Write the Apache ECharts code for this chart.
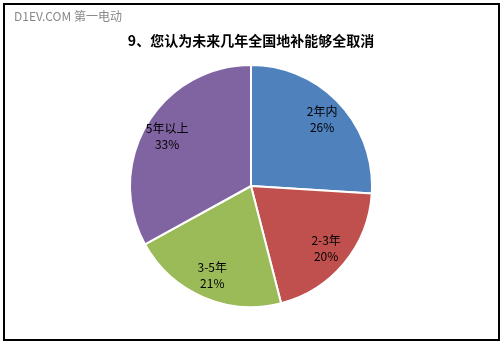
<!DOCTYPE html>
<html>
<head>
<meta charset="utf-8">
<script src="https://cdn.jsdelivr.net/npm/echarts@6/dist/echarts.min.js"></script>
<style>
	html, body { margin: 0; padding: 0; background: #fff; }
	#chart { width: 502px; height: 343px; }
</style>
</head>
<body>
<div id="chart"></div>
<script>
	// 数据
	var categories = ['2年内', '2-3年', '3-5年', '5年以上'];
	var values = [26, 20, 21, 33];
	var colors = ['#4F81BD', '#C0504D', '#9BBB59', '#8064A2'];

	var pieData = [];
	var labelData = [];
	for (var i = 0; i < categories.length; i++) {
		pieData.push({ name: categories[i], value: values[i], itemStyle: { color: colors[i] } });
		labelData.push({ name: categories[i], value: values[i] });
	}

	var chart = echarts.init(document.getElementById('chart'));
	var option = {
		animation: false,
		title: {
			text: '9、您认为未来几年全国地补能够全取消',
			left: 'center',
			top: 29,
			textStyle: {
				fontFamily: 'Noto Sans CJK SC',
				fontSize: 14,
				fontWeight: 'bold',
				color: '#000'
			}
		},
		graphic: [{
			type: 'rect',
			shape: { x: 4, y: 4, width: 495, height: 336 },
			style: { fill: 'none', stroke: '#000', lineWidth: 2 }
		}, {
			type: 'text',
			left: 14,
			top: 10,
			style: {
				text: 'D1EV.COM 第一电动',
				fill: '#888',
				font: '12px "Noto Sans CJK SC"'
			}
		}],
		series: [{
			type: 'pie',
			center: [251, 186],
			radius: [0, 121],
			startAngle: 90,
			clockwise: true,
			silent: true,
			label: { show: false },
			labelLine: { show: false },
			itemStyle: { borderColor: '#fff', borderWidth: 2 },
			data: pieData
		}, {
			// 仅用于放置标签
			type: 'pie',
			center: [251, 186],
			radius: [68, 121],
			startAngle: 90,
			clockwise: true,
			silent: true,
			itemStyle: { color: 'rgba(0,0,0,0)' },
			label: {
				show: true,
				position: 'inside',
				formatter: '{b}\n{d}%',
				fontFamily: 'Noto Sans CJK SC',
				fontSize: 12,
				lineHeight: 16,
				color: '#000'
			},
			labelLine: { show: false },
			data: labelData
		}]
	};
	chart.setOption(option);
</script>
</body>
</html>
